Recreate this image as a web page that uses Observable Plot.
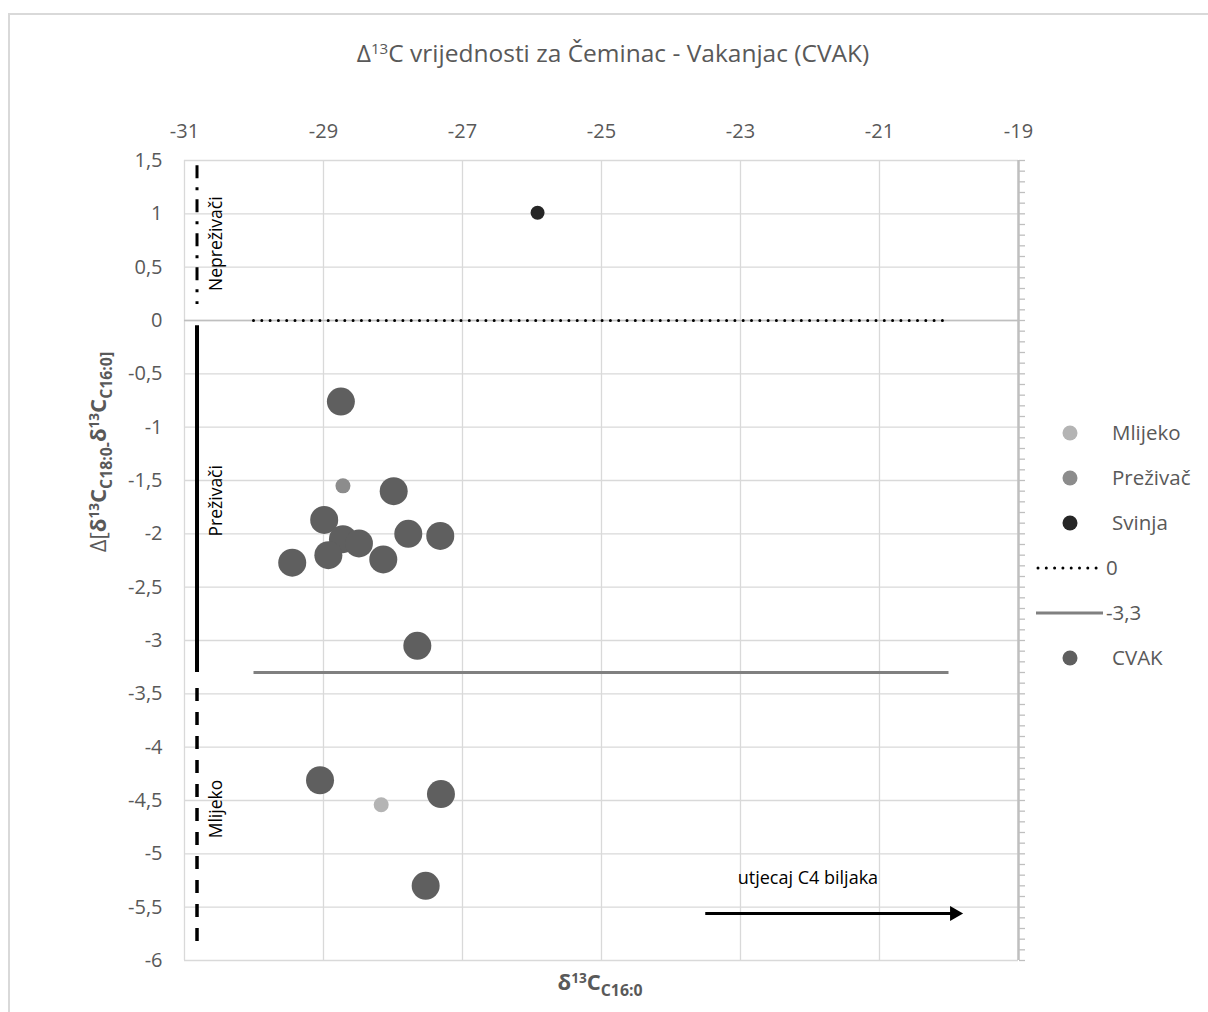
<!DOCTYPE html>
<html>
<head>
<meta charset="utf-8">
<script src="https://cdn.jsdelivr.net/npm/d3@7"></script>
<script src="https://cdn.jsdelivr.net/npm/@observablehq/plot@0.6"></script>
<style>
  body { margin: 0; background: #fff; font-family: "Open Sans", sans-serif; }
  #wrap { position: relative; width: 1208px; height: 1012px; overflow: hidden; background: #fff; }
  #frame { position: absolute; left: 8px; top: 13px; width: 1400px; height: 1200px; border: 2px solid #d9d9d9; box-sizing: border-box; }
  #title { position: absolute; left: 0; top: 36px; width: 1226px; text-align: center; font-size: 24.5px; color: #595959; line-height: 34px; white-space: nowrap; }
  #plot { position: absolute; left: 0; top: 100px; }
  .sup { font-size: 0.62em; position: relative; top: -0.55em; }
  .sub { font-size: 0.72em; position: relative; top: 0.35em; }
  #ytitle { position: absolute; left: 99px; top: 452px; transform: translate(-50%, -50%) rotate(-90deg); white-space: nowrap; color: #595959; font-size: 22px; line-height: 26px; }
  #xtitle { position: absolute; left: 600px; top: 983px; transform: translate(-50%, -50%); white-space: nowrap; color: #595959; font-size: 22px; line-height: 26px; font-weight: bold; }
  #legend { position: absolute; left: 1030px; top: 410px; }
</style>
</head>
<body>
<div id="wrap">
  <div id="frame"></div>
  <div id="title">Δ<span class="sup">13</span>C vrijednosti za Čeminac - Vakanjac (CVAK)</div>
  <div id="plot"></div>
  <div id="ytitle">Δ[<b>δ<span class="sup">13</span>C<span class="sub">C18:0-</span>δ<span class="sup">13</span>C<span class="sub">C16:0]</span></b></div>
  <div id="xtitle">δ<span class="sup">13</span>C<span class="sub">C16:0</span></div>
  <svg id="legend" width="178" height="270"></svg>
</div>
<script>
// ---- Data ----
const xTicks = [-31, -29, -27, -25, -23, -21, -19];
const yTicks = [-6, -5.5, -5, -4.5, -4, -3.5, -3, -2.5, -2, -1.5, -1, -0.5, 0, 0.5, 1, 1.5];
const minorTicks = d3.range(-60, 16).map(d => d / 10);

// CVAK samples
const cvakX = [-28.75, -27.99, -28.99, -28.72, -28.49, -27.78, -27.32, -28.93, -29.45, -28.14, -27.65, -29.05, -27.31, -27.53];
const cvakY = [-0.76, -1.60, -1.87, -2.05, -2.09, -2.00, -2.02, -2.20, -2.27, -2.24, -3.05, -4.31, -4.44, -5.30];
// reference points
const mlijekoX = [-28.17];
const mlijekoY = [-4.54];
const prezivacX = [-28.72];
const prezivacY = [-1.55];
const svinjaX = [-25.92];
const svinjaY = [1.01];

// reference lines (value, x extent)
const refLineValues = [0, -3.3];
const refLineX = [-30, -20];

// range bars on the left
const rangeNames = ["Nepreživači", "Preživači", "Mlijeko"];
const rangeTop = [1.45, -0.05, -3.45];
const rangeBottom = [0.15, -3.3, -5.85];
const rangeLabelY = [0.72, -1.69, -4.58];
const rangeX = -30.82;

// annotation arrow
const arrowText = "utjecaj C4 biljaka";
const arrowFrom = -23.5;
const arrowTo = -19.84;
const arrowY = -5.56;
const arrowTextX = -22.03;
const arrowTextY = -5.23;

// legend
const legendLabels = ["Mlijeko", "Preživač", "Svinja", "0", "-3,3", "CVAK"];

// ---- Build ----
const pts = (xs, ys) => xs.map((x, i) => ({x, y: ys[i]}));
const fmtComma = d => String(d).replace(".", ",");
const ranges = rangeNames.map((name, i) => ({name, y1: rangeTop[i], y2: rangeBottom[i], ly: rangeLabelY[i], x: rangeX}));

const C_MLIJEKO = "#b4b4b4", C_PREZ = "#8c8c8c", C_SVINJA = "#262626", C_CVAK = "#5f5f5f", C_REF = "#808080";

const chart = Plot.plot({
  width: 1208,
  height: 912,
  marginTop: 60,
  marginBottom: 52,
  marginLeft: 184,
  marginRight: 190,
  x: {domain: [-31, -19], label: null},
  y: {domain: [-6, 1.5], label: null},
  style: {fontFamily: "'Open Sans', sans-serif", fontSize: "20px", color: "#595959", background: "transparent", overflow: "visible"},
  marks: [
    Plot.gridX(xTicks, {stroke: "#d9d9d9", strokeOpacity: 1, strokeWidth: 1.3}),
    Plot.gridY(yTicks, {stroke: "#d9d9d9", strokeOpacity: 1, strokeWidth: 1.3}),
    Plot.ruleY([0], {stroke: "#bfbfbf", strokeWidth: 1.5}),
    Plot.ruleX([-19], {stroke: "#bfbfbf", strokeWidth: 2.5}),
    Plot.axisY(minorTicks, {anchor: "right", tickSize: 6, tickFormat: () => "", stroke: "#bfbfbf", strokeWidth: 1.3}),
    Plot.axisX(xTicks, {anchor: "top", tickSize: 0, tickPadding: 23, tickFormat: d => String(d), fill: "#595959"}),
    Plot.axisY(yTicks, {anchor: "left", tickSize: 0, tickPadding: 22, tickFormat: fmtComma, fill: "#595959"}),
    // reference lines
    Plot.ruleY([refLineValues[0]], {x1: refLineX[0], x2: refLineX[1], stroke: "#000", strokeWidth: 3, strokeDasharray: "0 8.3", strokeLinecap: "round"}),
    Plot.ruleY([refLineValues[1]], {x1: refLineX[0], x2: refLineX[1], stroke: C_REF, strokeWidth: 3}),
    // range bars
    Plot.ruleX([ranges[0]], {x: "x", y1: "y1", y2: "y2", stroke: "#000", strokeWidth: 3, strokeDasharray: "13 9 3 9"}),
    Plot.ruleX([ranges[1]], {x: "x", y1: "y1", y2: "y2", stroke: "#000", strokeWidth: 4}),
    Plot.ruleX([ranges[2]], {x: "x", y1: "y1", y2: "y2", stroke: "#000", strokeWidth: 3.5, strokeDasharray: "13 11"}),
    Plot.text(ranges, {x: "x", y: "ly", text: "name", rotate: -90, dx: 19, fill: "#000", fontSize: 17.5}),
    // arrow annotation
    Plot.ruleY([arrowY], {x1: arrowFrom, x2: arrowTo, stroke: "#000", strokeWidth: 3}),
    Plot.dot([{x: arrowTo, y: arrowY}], {x: "x", y: "y", symbol: "triangle", rotate: 90, r: 5.6, fill: "#000", stroke: "none", dx: -5.7}),
    Plot.text([{x: arrowTextX, y: arrowTextY, t: arrowText}], {x: "x", y: "y", text: "t", fill: "#000", fontSize: 18}),
    // points
    Plot.dot(pts(svinjaX, svinjaY), {x: "x", y: "y", r: 7, fill: C_SVINJA}),
    Plot.dot(pts(prezivacX, prezivacY), {x: "x", y: "y", r: 7.5, fill: C_PREZ}),
    Plot.dot(pts(mlijekoX, mlijekoY), {x: "x", y: "y", r: 7.5, fill: C_MLIJEKO}),
    Plot.dot(pts(cvakX, cvakY), {x: "x", y: "y", r: 14, fill: C_CVAK})
  ]
});
document.getElementById("plot").appendChild(chart);

// ---- Legend ----
const lg = d3.select("#legend");
const kinds = ["dot", "dot", "dot", "dotted", "solid", "dot"];
const colors = [C_MLIJEKO, C_PREZ, C_SVINJA, "#000", C_REF, C_CVAK];
legendLabels.forEach((label, i) => {
  const y = 23 + i * 45;
  if (kinds[i] === "dot") {
    lg.append("circle").attr("cx", 40).attr("cy", y).attr("r", 7.5).attr("fill", colors[i]);
    lg.append("text").attr("x", 82).attr("y", y).attr("dy", "0.35em").attr("fill", "#595959")
      .attr("font-family", "'Open Sans', sans-serif").attr("font-size", 20.5).text(label);
  } else {
    const line = lg.append("line").attr("x1", 6).attr("x2", 73).attr("y1", y).attr("y2", y).attr("stroke", colors[i]).attr("stroke-width", 3);
    if (kinds[i] === "dotted") line.attr("stroke-dasharray", "0 8.3").attr("stroke-linecap", "round").attr("x1", 8);
    lg.append("text").attr("x", 76).attr("y", y).attr("dy", "0.35em").attr("fill", "#595959")
      .attr("font-family", "'Open Sans', sans-serif").attr("font-size", 20.5).text(label);
  }
});
</script>
</body>
</html>
